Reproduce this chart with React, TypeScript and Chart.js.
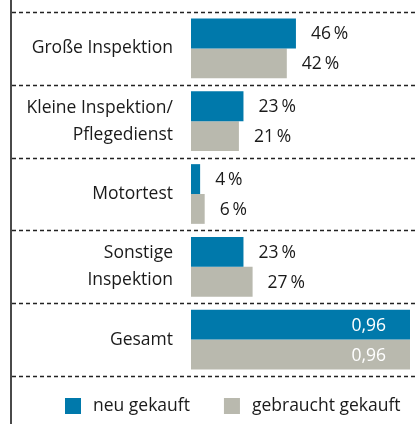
import React, { useEffect, useRef } from "react";
import { Chart, registerables } from "chart.js";

Chart.register(...registerables);

const categories: string[][] = [
  ["Große Inspektion"],
  ["Kleine Inspektion/", "Pflegedienst"],
  ["Motortest"],
  ["Sonstige", "Inspektion"],
  ["Gesamt"],
];
const seriesNames = ["neu gekauft", "gebraucht gekauft"];
const neuGekauft = [46, 23, 4, 23, 96];
const gebrauchtGekauft = [42, 21, 6, 27, 96];
const labelsNeu = ["46\u2009%", "23\u2009%", "4\u2009%", "23\u2009%", "0,96"];
const labelsGebraucht = ["42\u2009%", "21\u2009%", "6\u2009%", "27\u2009%", "0,96"];
const insideIndex = 4;

const BLUE = "#0079ab";
const GREY = "#b9b9ae";
const FONT = "'Open Sans', sans-serif";
const FONT_SIZE = 17.5;

const decorPlugin = {
  id: "decor",
  beforeDatasetsDraw(chart: any) {
    const { ctx, scales } = chart;
    const y = scales.y;
    ctx.save();
    ctx.strokeStyle = "#222";
    ctx.lineWidth = 1.5;
    ctx.setLineDash([4, 3]);
    for (let i = 0; i <= categories.length; i++) {
      const py = Math.round(y.getPixelForValue(i - 0.5)) + 0.5;
      ctx.beginPath();
      ctx.moveTo(12, py);
      ctx.lineTo(415, py);
      ctx.stroke();
    }
    ctx.setLineDash([]);
    ctx.strokeStyle = "#4a4a4a";
    ctx.lineWidth = 2;
    ctx.beginPath();
    ctx.moveTo(11, 0);
    ctx.lineTo(11, 424);
    ctx.stroke();
    ctx.restore();
  },
  afterDatasetsDraw(chart: any) {
    const { ctx } = chart;
    ctx.save();
    ctx.font = `${FONT_SIZE}px ${FONT}`;
    ctx.textBaseline = "middle";
    const allLabels = [labelsNeu, labelsGebraucht];
    chart.data.datasets.forEach((ds: any, di: number) => {
      const meta = chart.getDatasetMeta(di);
      meta.data.forEach((bar: any, i: number) => {
        const text = allLabels[di][i];
        if (i === insideIndex) {
          ctx.fillStyle = "#ffffff";
          ctx.textAlign = "right";
          ctx.fillText(text, bar.x - 24, bar.y + 1);
        } else {
          ctx.fillStyle = "#1a1a1a";
          ctx.textAlign = "left";
          ctx.fillText(text, bar.x + 15, bar.y + 1);
        }
      });
    });
    // legend
    let x = 65;
    const ly = 406;
    chart.data.datasets.forEach((ds: any) => {
      ctx.fillStyle = ds.backgroundColor;
      ctx.fillRect(x, ly - 8, 16, 16);
      x += 16 + 12;
      ctx.fillStyle = "#1a1a1a";
      ctx.textAlign = "left";
      ctx.fillText(ds.label, x, ly);
      x += ctx.measureText(ds.label).width + 34;
    });
    ctx.restore();
  },
};

export default function App() {
  const ref = useRef<HTMLCanvasElement | null>(null);
  useEffect(() => {
    if (!ref.current) return;
    const chart = new Chart(ref.current, {
      type: "bar",
      data: {
        labels: categories,
        datasets: [
          {
            label: seriesNames[0],
            data: neuGekauft,
            backgroundColor: BLUE,
            categoryPercentage: 0.82,
            barPercentage: 1,
          },
          {
            label: seriesNames[1],
            data: gebrauchtGekauft,
            backgroundColor: GREY,
            categoryPercentage: 0.82,
            barPercentage: 1,
          },
        ],
      },
      options: {
        indexAxis: "y",
        animation: false,
        responsive: false,
        layout: { padding: { top: 12, bottom: 48, right: 5, left: 0 } },
        plugins: {
          legend: { display: false },
          tooltip: { enabled: false },
        },
        scales: {
          x: {
            display: false,
            min: 0,
            max: 96,
          },
          y: {
            grid: { display: false, drawTicks: false },
            border: { display: false },
            ticks: {
              padding: 18,
              color: "#1a1a1a",
              font: { family: FONT, size: FONT_SIZE, lineHeight: 1.55 },
            },
            afterFit: (s: any) => {
              s.width = 191;
              s.paddingTop = 0;
              s.paddingBottom = 0;
            },
          },
        },
      },
      plugins: [decorPlugin],
    });
    return () => chart.destroy();
  }, []);
  return (
    <div style={{ position: "fixed", left: 0, top: 0, width: 415, height: 424, background: "#fff" }}>
      <canvas ref={ref} width={415} height={424} style={{ display: "block" }} />
    </div>
  );
}
